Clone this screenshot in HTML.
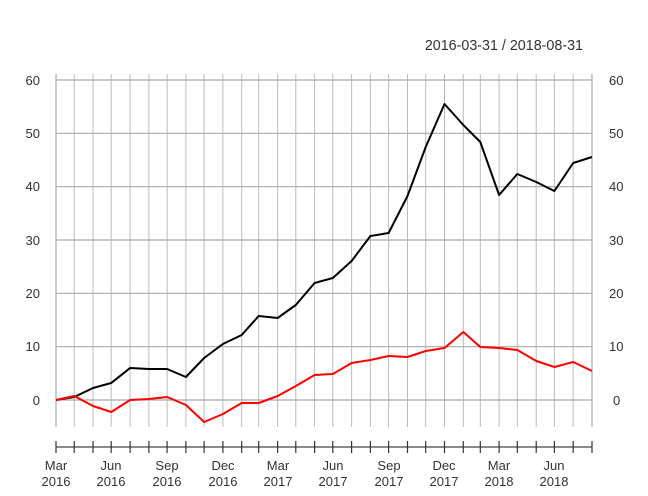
<!DOCTYPE html>
<html><head><meta charset="utf-8"><style>
html,body{margin:0;padding:0;background:#fff;}
svg{display:block;}
text{font-family:"Liberation Sans",Arial,sans-serif;font-size:13px;fill:#333;}
</style></head><body>
<svg width="648" height="496" viewBox="0 0 648 496" xmlns="http://www.w3.org/2000/svg">
<rect width="648" height="496" fill="#fff"/>
<text x="583" y="50" text-anchor="end" style="font-size:14.3px">2016-03-31 / 2018-08-31</text>
<g id="vg" stroke="#bbb" stroke-width="1">
</g>
<g stroke="#aaa" stroke-width="1.2">
<line x1="56" x2="592" y1="80" y2="80"/><line x1="56" x2="592" y1="133.3" y2="133.3"/>
<line x1="56" x2="592" y1="186.7" y2="186.7"/><line x1="56" x2="592" y1="240" y2="240"/>
<line x1="56" x2="592" y1="293.3" y2="293.3"/><line x1="56" x2="592" y1="346.7" y2="346.7"/>
<line x1="56" x2="592" y1="400" y2="400"/>
</g>
<g text-anchor="end">
<text x="40" y="85">60</text><text x="40" y="138">50</text><text x="40" y="191">40</text>
<text x="40" y="245">30</text><text x="40" y="298">20</text><text x="40" y="351">10</text><text x="40" y="405">0</text>
</g>
<g text-anchor="start">
<text x="609" y="85">60</text><text x="609" y="138">50</text><text x="609" y="191">40</text>
<text x="609" y="245">30</text><text x="609" y="298">20</text><text x="609" y="351">10</text><text x="613" y="405">0</text>
</g>
<line x1="56" x2="592" y1="447" y2="447" stroke="#444" stroke-width="1.2"/>
<g id="tk" stroke="#333" stroke-width="1.2"></g>
<g text-anchor="middle">
<text x="56" y="470">Mar</text><text x="56" y="486">2016</text>
<text x="111" y="470">Jun</text><text x="111" y="486">2016</text>
<text x="167" y="470">Sep</text><text x="167" y="486">2016</text>
<text x="223" y="470">Dec</text><text x="223" y="486">2016</text>
<text x="278" y="470">Mar</text><text x="278" y="486">2017</text>
<text x="333" y="470">Jun</text><text x="333" y="486">2017</text>
<text x="389" y="470">Sep</text><text x="389" y="486">2017</text>
<text x="444" y="470">Dec</text><text x="444" y="486">2017</text>
<text x="499" y="470">Mar</text><text x="499" y="486">2018</text>
<text x="554" y="470">Jun</text><text x="554" y="486">2018</text>
</g>
<polyline id="bk" fill="none" stroke="#000" stroke-width="2" stroke-linejoin="round"/>
<polyline id="rd" fill="none" stroke="#f00" stroke-width="2" stroke-linejoin="round"/>
<script>
var xs=[56,74.2,93,111.2,130.1,148.9,167.1,185.9,204.1,222.9,241.7,258.7,277.6,295.8,314.6,332.8,351.6,370.4,388.6,407.5,425.7,444.5,463.3,480.3,499.1,517.3,536.2,554.4,573.2,592];
var b=[400,397,388,383,368,369,369,377,358,344,335,316,318,305,283,278,261,236,233,196,147,104,125,142,195,174,182,191,163,157];
var r=[400,396,406,412,400,399,397,405,422,414,403,403,396,386,375,374,363,360,356,357,351,348,332,347,348,350,361,367,362,371];
var ns="http://www.w3.org/2000/svg",vg=document.getElementById('vg'),tk=document.getElementById('tk');
xs.forEach(function(x,i){
 var l=document.createElementNS(ns,'line');l.setAttribute('x1',x);l.setAttribute('x2',x);l.setAttribute('y1',74);l.setAttribute('y2',427);
 if(i==0||i==29)l.setAttribute('stroke','#999');vg.appendChild(l);
 var t=document.createElementNS(ns,'line');t.setAttribute('x1',x);t.setAttribute('x2',x);t.setAttribute('y1',441);t.setAttribute('y2',453);tk.appendChild(t);
});
document.getElementById('bk').setAttribute('points',xs.map(function(x,i){return x+','+b[i]}).join(' '));
document.getElementById('rd').setAttribute('points',xs.map(function(x,i){return x+','+r[i]}).join(' '));
</script>
</svg>
</body></html>
